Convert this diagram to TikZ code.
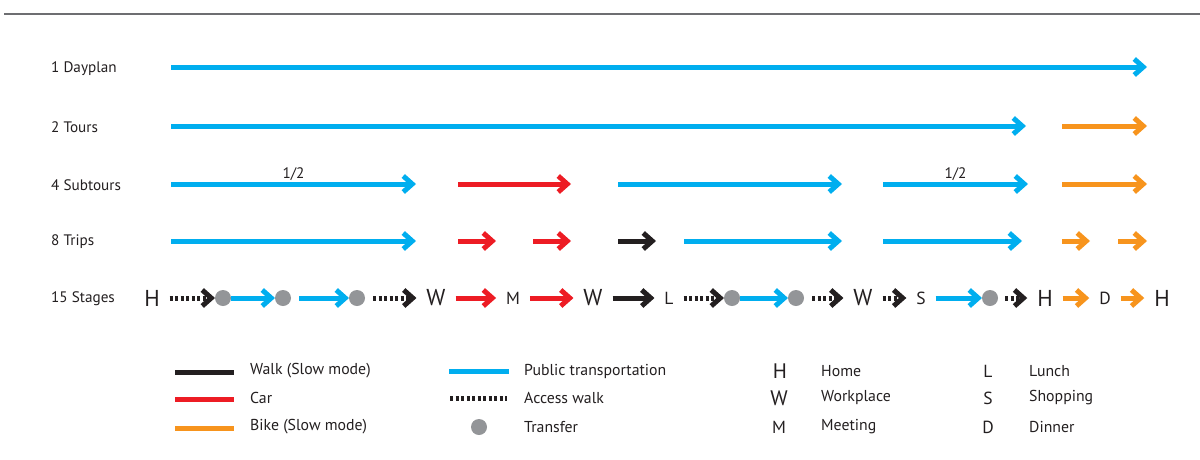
\documentclass[tikz,border=0pt]{standalone}
\usepackage{fontspec}
\setmainfont{PT Sans}
\usetikzlibrary{arrows.meta}

\definecolor{ptblue}{HTML}{00AEEF}
\definecolor{carred}{HTML}{ED1C24}
\definecolor{bikeorange}{HTML}{F7941D}
\definecolor{walkblack}{HTML}{231F20}
\definecolor{dotgrey}{HTML}{939598}
\definecolor{rulegrey}{HTML}{6D6E71}

\tikzset{
    mode/.style={line width=5pt, -{Straight Barb[length=9pt, width=16pt, line width=5pt, sharp]}},
    pt/.style={mode, ptblue},
    car/.style={mode, carred},
    bike/.style={mode, bikeorange},
    walk/.style={mode, walkblack},
    access/.style={walk, dash pattern=on 3pt off 2.5pt},
    transfer/.style={circle, fill=dotgrey, minimum size=16pt, inner sep=0pt, outer sep=0pt},
    bigstop/.style={font=\fontsize{23}{23}\selectfont, inner sep=0pt, outer sep=10pt, text=walkblack},
    smallstop/.style={font=\fontsize{17.5}{17.5}\selectfont, inner sep=0pt, outer sep=10pt, text=walkblack},
    rowlabel/.style={anchor=west, font=\fontsize{15.2}{15.2}\selectfont, inner sep=0pt, text=walkblack},
    half/.style={above=1pt, inner sep=0pt, font=\fontsize{15.2}{15.2}\selectfont, text=walkblack},
    keyline/.style={line width=5pt},
    keytext/.style={anchor=west, font=\fontsize{15.8}{15.8}\selectfont, inner sep=0pt, text=walkblack},
    keybig/.style={font=\fontsize{21}{21}\selectfont, inner sep=0pt, text=walkblack},
    keysmall/.style={font=\fontsize{17.5}{17.5}\selectfont, inner sep=0pt, text=walkblack},
}

\begin{document}
\begin{tikzpicture}[x=1pt, y=-1pt]
    \useasboundingbox (0,0) rectangle (1200,459);
    \draw[rulegrey, line width=1.5pt] (4,14) -- (1200,14);

    % row labels
    \node[rowlabel] (dayplan) at (51,69) {1 Dayplan};
    \node[rowlabel] (tours) at (51,127) {2 Tours};
    \node[rowlabel] (subtours) at (51,185) {4 Subtours};
    \node[rowlabel] (trips) at (51,242) {8 Trips};
    \node[rowlabel] (stages) at (51,299) {15 Stages};

    % dayplan and tours
    \draw[pt] (171,67) -- (1147,67);
    \draw[pt] (171,126) -- (1026,126);
    \draw[bike] (1062,126) -- (1147,126);

    % subtours
    \draw[pt] (171,184) -- node[half] (half1) {1/2} (416,184);
    \draw[car] (458,184) -- (571,184);
    \draw[pt] (618,184) -- (842,184);
    \draw[pt] (883,184) -- node[half] (half2) {1/2} (1028,184);
    \draw[bike] (1062,184) -- (1147,184);

    % trips
    \draw[pt] (171,241) -- (416,241);
    \draw[car] (458,241) -- (496,241);
    \draw[car] (533,241) -- (571,241);
    \draw[walk] (618,241) -- (656,241);
    \draw[pt] (684,241) -- (842,241);
    \draw[pt] (883,241) -- (1022,241);
    \draw[bike] (1062,241) -- (1090,241);
    \draw[bike] (1118,241) -- (1147,241);

    % stages
    \node[bigstop] (h1) at (152,298) {H};
    \node[transfer] (t1) at (223,298) {};
    \node[transfer] (t2) at (283,298) {};
    \node[transfer] (t3) at (357,298) {};
    \node[bigstop] (w1) at (436,298) {W};
    \node[smallstop] (m) at (513,298) {M};
    \node[bigstop] (w2) at (593,298) {W};
    \node[smallstop] (l) at (669,298) {L};
    \node[transfer] (t4) at (732,298) {};
    \node[transfer] (t5) at (796,298) {};
    \node[bigstop] (w3) at (863,298) {W};
    \node[smallstop] (s) at (921,298) {S};
    \node[transfer] (t6) at (990,298) {};
    \node[bigstop] (h2) at (1045,298) {H};
    \node[smallstop] (d) at (1105,298) {D};
    \node[bigstop] (h3) at (1162,298) {H};

    \draw[access] (h1) -- (t1);
    \draw[pt] (t1) -- (t2);
    \draw[pt, shorten <=8pt] (t2) -- (t3);
    \draw[access, shorten <=8pt] (t3) -- (w1);
    \draw[car] (w1) -- (m);
    \draw[car] (m) -- (w2);
    \draw[walk] (w2) -- (l);
    \draw[access] (l) -- (t4);
    \draw[pt] (t4) -- (t5);
    \draw[access, shorten <=8pt] (t5) -- (w3);
    \draw[access] (w3) -- (s);
    \draw[pt] (s) -- (t6);
    \draw[access, shorten <=7pt] (t6) -- (h2);
    \draw[bike] (h2) -- (d);
    \draw[bike] (d) -- (h3);

    % legend
    \coordinate (walk-a) at (175,372);
    \coordinate (walk-b) at (234,372);
    \coordinate (car-a) at (175,399);
    \coordinate (car-b) at (234,399);
    \coordinate (bike-a) at (175,428);
    \coordinate (bike-b) at (234,428);
    \coordinate (pt-a) at (449,371);
    \coordinate (pt-b) at (509,371);
    \coordinate (acc-a) at (450,398);
    \coordinate (acc-b) at (507,398);
    \draw[keyline, walkblack] (walk-a) -- (walk-b);
    \draw[keyline, carred] (car-a) -- (car-b);
    \draw[keyline, bikeorange] (bike-a) -- (bike-b);
    \draw[keyline, ptblue] (pt-a) -- (pt-b);
    \draw[keyline, walkblack, dash pattern=on 3pt off 2.5pt] (acc-a) -- (acc-b);
    \node[transfer] (key-transfer) at (479,427) {};

    \node[keytext] (walk-text) at (250,371) {Walk (Slow mode)};
    \node[keytext] (car-text) at (250,398) {Car};
    \node[keytext] (bike-text) at (250,427) {Bike (Slow mode)};
    \node[keytext] (pt-text) at (524,371) {Public transportation};
    \node[keytext] (acc-text) at (524,398) {Access walk};
    \node[keytext] (transfer-text) at (524,427) {Transfer};

    \node[keybig] (key-h) at (780,371) {H};
    \node[keybig] (key-w) at (779,398) {W};
    \node[keysmall] (key-m) at (779,427) {M};
    \node[keytext] (home-text) at (821,371) {Home};
    \node[keytext] (work-text) at (821,398) {Workplace};
    \node[keytext] (meet-text) at (821,427) {Meeting};

    \node[keysmall] (key-l) at (988,371) {L};
    \node[keysmall] (key-s) at (988,398) {S};
    \node[keysmall] (key-d) at (988,427) {D};
    \node[keytext] (lunch-text) at (1029,371) {Lunch};
    \node[keytext] (shop-text) at (1029,398) {Shopping};
    \node[keytext] (dinner-text) at (1029,427) {Dinner};
\end{tikzpicture}
\end{document}
